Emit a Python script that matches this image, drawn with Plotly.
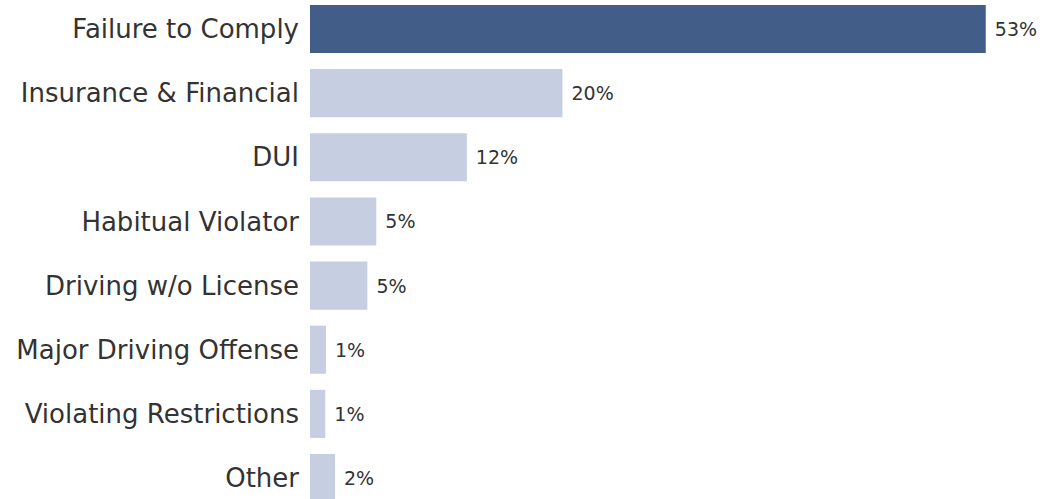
import plotly.graph_objects as go

categories = ["Failure to Comply", "Insurance & Financial", "DUI", "Habitual Violator",
              "Driving w/o License", "Major Driving Offense", "Violating Restrictions", "Other"]
values = [53.0, 19.8, 12.3, 5.2, 4.5, 1.25, 1.2, 1.96]
labels = ["53%", "20%", "12%", "5%", "5%", "1%", "1%", "2%"]

DARK = "#435d89"
LIGHT = "#c5cfe1"
colors = [DARK] + [LIGHT] * (len(categories) - 1)

fig = go.Figure(go.Bar(
    y=categories, x=values, orientation="h",
    marker=dict(color=colors, line=dict(width=0)),
    width=0.75,
    text=labels, texttemplate=" %{text}", textposition="outside",
    textfont=dict(size=19, color="#333333", family="DejaVu Sans"),
    cliponaxis=False,
    hoverinfo="skip",
))

W, H = 1042, 499
left = 310
fig.update_layout(
    width=W, height=H,
    margin=dict(l=left, r=0, t=0, b=0),
    paper_bgcolor="white", plot_bgcolor="white",
    showlegend=False,
    font=dict(family="DejaVu Sans", color="#333333"),
    xaxis=dict(visible=False, range=[0, (W - left) / 12.75]),
    yaxis=dict(categoryorder="array", categoryarray=categories,
               range=[7.327, -0.452], showgrid=False, zeroline=False,
               showline=False, ticks="", ticklabelstandoff=10,
               tickfont=dict(size=26, color="#333333", family="DejaVu Sans")),
)

fig.write_html("out.html")
